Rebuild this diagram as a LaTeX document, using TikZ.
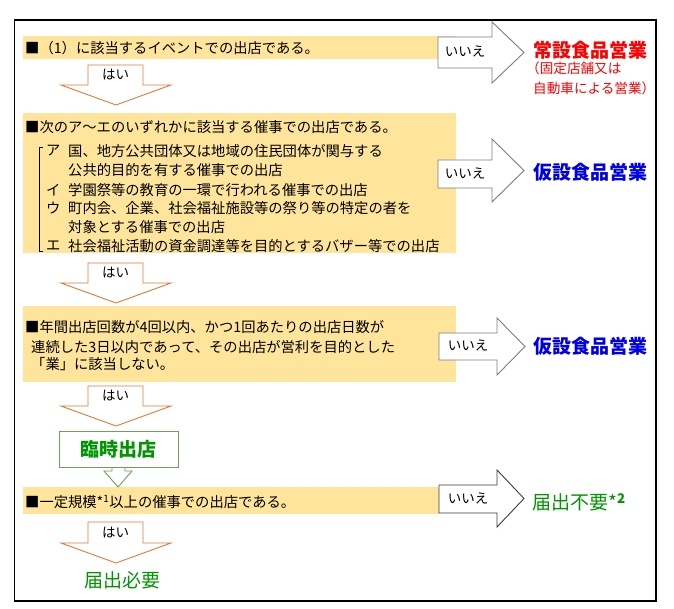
\documentclass[tikz,border=0pt]{standalone}
\usepackage{fontspec}
\setmainfont{Noto Sans CJK JP}
\definecolor{barfill}{RGB}{255,228,156}
\definecolor{orangeline}{RGB}{226,122,58}
\definecolor{grayline}{RGB}{125,125,125}
\definecolor{darkline}{RGB}{60,60,60}
\definecolor{greenline}{RGB}{110,160,90}
\definecolor{jgreen}{RGB}{0,150,0}
\definecolor{jblue}{RGB}{0,0,230}
\definecolor{jred}{RGB}{255,0,0}
\newcommand\myDownArrow[4]{%
  \draw[downarr] (88,#2) -- (143,#2) -- (143,#3) -- (171,#3) -- (116,#4) -- (61,#3) -- (88,#3) -- cycle;
  \node[lbl] (#1) at (115.5,{(#2+#3)/2}) {はい};
}
% name, body left, head x, tip x, body top, body bottom, head top, head bottom, style
\newcommand\myRightArrow[9]{%
  \draw[#9] (#2,#5) -- (#3,#5) -- (#3,#7) -- (#4,{(#7+#8)/2}) -- (#3,#8) -- (#3,#6) -- (#2,#6) -- cycle;
  \node[lbl] (#1) at ({(#2+#3)/2},{(#5+#6)/2-1}) {いいえ};
}
\begin{document}
\begin{tikzpicture}[x=1pt,y=-1pt,
  bar/.style={fill=barfill,draw=none},
  downarr/.style={draw=orangeline,fill=white,line width=0.9pt,line join=miter},
  rightarr/.style={draw=grayline,fill=white,line width=0.9pt},
  rightarrdark/.style={draw=darkline,fill=white,line width=0.9pt},
  txt/.style={anchor=west,inner sep=0pt,font=\fontsize{14.3}{16}\selectfont},
  lbl/.style={inner sep=0pt,font=\fontsize{13.5}{15}\selectfont},
  small/.style={anchor=west,inner sep=0pt,font=\fontsize{13.6}{15}\selectfont,text=jred},
  big/.style={anchor=west,inner sep=0pt,font=\fontsize{19}{22}\selectfont}]
\useasboundingbox (0,0) rectangle (674,609);
\fill[white] (0,0) rectangle (674,609);
\draw[line width=1.3pt] (14.5,20) rectangle (656,601);

% question bars
\fill[bar] (23,36) rectangle (456,59);
\fill[bar] (23,113) rectangle (456,253);
\fill[bar] (23,306) rectangle (456,382);
\fill[bar] (23,487) rectangle (439,514);

% right arrows
\myRightArrow{no1}{438}{492}{524}{37}{68}{22}{83}{rightarr}
\myRightArrow{no2}{438}{492}{524}{160}{188}{139}{202}{rightarr}
\myRightArrow{no3}{439}{497}{525}{333}{360}{318}{375}{rightarr}
\myRightArrow{no4}{439}{497}{524}{485}{513}{470}{527}{rightarrdark}

% down arrows
\myDownArrow{yes1}{65}{85}{105}
\myDownArrow{yes2}{263}{283}{303}
\myDownArrow{yes3}{386}{406}{426}
\myDownArrow{yes4}{522}{543}{563}

% question 1
\node[txt] (q1) at (25,48) {■（1）に該当するイベントでの出店である。};

% question 2
\node[txt] (q2) at (25,127) {■次のア～エのいずれかに該当する催事での出店である。};
\draw[line width=0.7pt] (43,147) -- (39.5,147) -- (39.5,251.5) -- (43,251.5);
\node[txt] (q2a) at (46,151) {ア};
\node[txt] (q2at) at (68,151) {国、地方公共団体又は地域の住民団体が関与する};
\node[txt] (q2at2) at (68,170) {公共的目的を有する催事での出店};
\node[txt] (q2b) at (46,190) {イ};
\node[txt] (q2bt) at (68,190) {学園祭等の教育の一環で行われる催事での出店};
\node[txt] (q2c) at (46,208) {ウ};
\node[txt] (q2ct) at (68,208) {町内会、企業、社会福祉施設等の祭り等の特定の者を};
\node[txt] (q2ct2) at (68,227) {対象とする催事での出店};
\node[txt] (q2d) at (46,246) {エ};
\node[txt] (q2dt) at (68,246) {社会福祉活動の資金調達等を目的とするバザー等での出店};

% question 3
\node[txt] (q3) at (25,327) {■年間出店回数が4回以内、かつ1回あたりの出店日数が};
\node[txt] (q3b) at (31,347) {連続した3日以内であって、その出店が営利を目的とした};
\node[txt] (q3c) at (31,364) {「業」に該当しない。};

% question 4
\node[txt] (q4) at (25,502) {■一定規模*\textsuperscript{1}以上の催事での出店である。};

% temporary box and small arrow
\draw[draw=greenline,fill=white,line width=0.9pt] (112,466) -- (112,471) -- (104,471) -- (118,487) -- (132,471) -- (125,471) -- (125,466);
\node[draw=greenline,fill=white,line width=0.9pt,minimum width=119pt,minimum height=36pt,inner sep=0pt,
  font=\fontsize{19}{22}\selectfont\bfseries,text=jgreen] (rinji) at (118.5,449) {臨時出店};

% results
\node[big,text=jred] (r1) at (533,50) {\bfseries 常設食品営業};
\node[small] (r1b) at (526,68) {（固定店舗又は};
\node[small] (r1c) at (533,88) {自動車による営業）};
\node[big,text=jblue] (r2) at (533,172) {\bfseries 仮設食品営業};
\node[big,text=jblue] (r3) at (533,346) {\bfseries 仮設食品営業};
\node[big,text=jgreen] (r4) at (532,502) {届出不要*\textsuperscript{\bfseries 2}};
\node[big,text=jgreen] (r5) at (84,580) {届出必要};
\end{tikzpicture}
\end{document}
